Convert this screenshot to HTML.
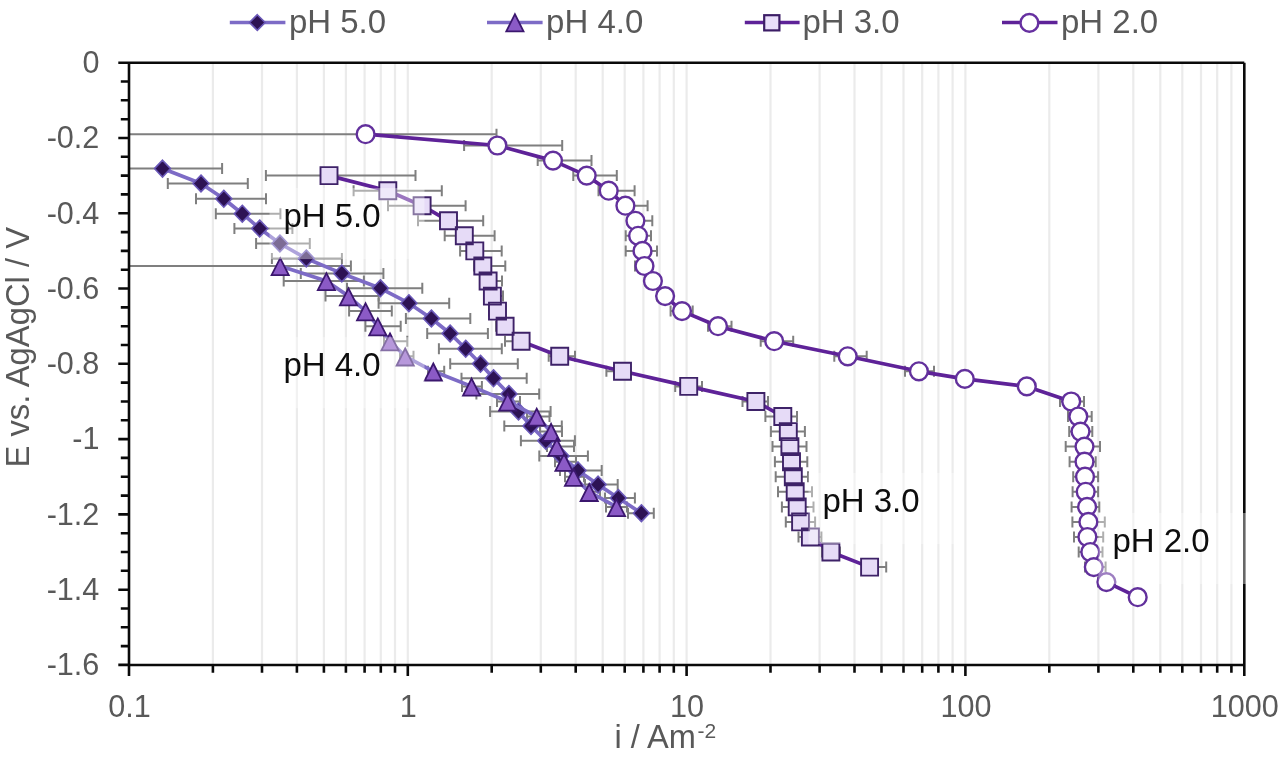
<!DOCTYPE html>
<html><head><meta charset="utf-8"><style>
html,body{margin:0;padding:0;background:#fff;width:1280px;height:759px;overflow:hidden}
svg{display:block;will-change:transform;font-family:"Liberation Sans",sans-serif}
#w{width:1280px;height:759px}
</style></head><body><div id="w">
<svg width="1280" height="759" viewBox="0 0 1280 759">
<path d="M212.9 63V664M262 63V664M296.9 63V664M323.9 63V664M345.9 63V664M364.6 63V664M380.8 63V664M395 63V664M407.8 63V664M491.7 63V664M540.8 63V664M575.7 63V664M602.7 63V664M624.7 63V664M643.4 63V664M659.6 63V664M673.8 63V664M686.6 63V664M770.5 63V664M819.6 63V664M854.5 63V664M881.5 63V664M903.5 63V664M922.2 63V664M938.4 63V664M952.6 63V664M965.4 63V664M1049.3 63V664M1098.4 63V664M1133.3 63V664M1160.3 63V664M1182.3 63V664M1201 63V664M1217.2 63V664M1231.4 63V664M1244.2 63V664" stroke="#ebebeb" stroke-width="2.2" fill="none"/>
<path d="M129 168.6H222.1M222.1 163.1V174.1M167.8 183.5H247.8M167.8 178V189M247.8 178V189M196 198.8H266M196 193.3V204.3M266 193.3V204.3M215.8 213.7H280.4M215.8 208.2V219.2M280.4 208.2V219.2M234.4 228.5H292.4M234.4 223V234M292.4 223V234M256.1 243.5H309.8M256.1 238V249M309.8 238V249M271.9 258.5H341.9M271.9 253V264M341.9 253V264M300.8 273.4H383.4M300.8 267.9V278.9M383.4 267.9V278.9M347 288.3H422.3M347 282.8V293.8M422.3 282.8V293.8M378.6 303.2H449.2M378.6 297.7V308.7M449.2 297.7V308.7M405.9 318.5H470.3M405.9 313V324M470.3 313V324M427.2 333.5H487.9M427.2 328V339M487.9 328V339M438.9 348.8H501.8M438.9 343.3V354.3M501.8 343.3V354.3M450.2 363.8H517.8M450.2 358.3V369.3M517.8 358.3V369.3M461.5 378.3H526.7M461.5 372.8V383.8M526.7 372.8V383.8M476.4 394H539.2M476.4 388.5V399.5M539.2 388.5V399.5M490.1 411.5H550.6M490.1 406V417M550.6 406V417M504.3 426H561.8M504.3 420.5V431.5M561.8 420.5V431.5M520.9 440.7H574.9M520.9 435.2V446.2M574.9 435.2V446.2M539.3 456H587.9M539.3 450.5V461.5M587.9 450.5V461.5M560 470.4H601.7M560 464.9V475.9M601.7 464.9V475.9M585 484.6H617.7M585 479.1V490.1M617.7 479.1V490.1M605 498H634.9M605 492.5V503.5M634.9 492.5V503.5M628 513.2H653.8M628 507.7V518.7M653.8 507.7V518.7" stroke="#7f7f7f" stroke-width="2.0" fill="none"/>
<path d="M129 266H350.9M350.9 260.5V271.5M283.7 281H363.9M283.7 275.5V286.5M363.9 275.5V286.5M325.5 296.1H378.7M325.5 290.6V301.6M378.7 290.6V301.6M349.1 311.1H391.8M349.1 305.6V316.6M391.8 305.6V316.6M365.4 326.2H400.7M365.4 320.7V331.7M400.7 320.7V331.7M384 341.2H407.3M384 335.7V346.7M407.3 335.7V346.7M400 356.3H413.5M400 350.8V361.8M413.5 350.8V361.8M428 371.3H444.2M428 365.8V376.8M444.2 365.8V376.8M462 386.4H481.9M462 380.9V391.9M481.9 380.9V391.9M497 401.5H520M497 396V407M520 396V407M527 416.5H549.5M527 411V422M549.5 411V422M540 431.6H562M540 426.1V437.1M562 426.1V437.1M547 446.6H574M547 441.1V452.1M574 441.1V452.1M555 461.7H576M555 456.2V467.2M576 456.2V467.2M565 476.7H584M565 471.2V482.2M584 471.2V482.2M586 491.8H600M586 486.3V497.3M600 486.3V497.3M606 506.9H627M606 501.4V512.4M627 501.4V512.4" stroke="#7f7f7f" stroke-width="2.0" fill="none"/>
<path d="M265.9 175.6H415.5M265.9 170.1V181.1M415.5 170.1V181.1M353.6 190.7H441.8M353.6 185.2V196.2M441.8 185.2V196.2M388 205.7H465.6M388 200.2V211.2M465.6 200.2V211.2M418 220.8H483.2M418 215.3V226.3M483.2 215.3V226.3M444.7 235.8H494.6M444.7 230.3V241.3M494.6 230.3V241.3M460.1 250.9H501.7M460.1 245.4V256.4M501.7 245.4V256.4M474 266H505.3M474 260.5V271.5M505.3 260.5V271.5M480 281H502M480 275.5V286.5M502 275.5V286.5M484 296.1H503M484 290.6V301.6M503 290.6V301.6M489 311.1H505M489 305.6V316.6M505 305.6V316.6M496 326.2H513M496 320.7V331.7M513 320.7V331.7M505 341.2H529M505 335.7V346.7M529 335.7V346.7M548.7 356.3H575M548.7 350.8V361.8M575 350.8V361.8M606.4 371.3H630M606.4 365.8V376.8M630 365.8V376.8M675.2 386.4H702M675.2 380.9V391.9M702 380.9V391.9M742.5 401.5H768M742.5 396V407M768 396V407M765.4 416.5H797M765.4 411V422M797 411V422M770.9 431.6H804.9M770.9 426.1V437.1M804.9 426.1V437.1M772.5 446.6H806.5M772.5 441.1V452.1M806.5 441.1V452.1M774.9 461.7H807.3M774.9 456.2V467.2M807.3 456.2V467.2M775.7 476.7H808M775.7 471.2V482.2M808 471.2V482.2M778 491.8H812M778 486.3V497.3M812 486.3V497.3M781.9 506.9H813.5M781.9 501.4V512.4M813.5 501.4V512.4M785.8 521.9H815.1M785.8 516.4V527.4M815.1 516.4V527.4M798.5 537H821.4M798.5 531.5V542.5M821.4 531.5V542.5M822 552H840M822 546.5V557.5M840 546.5V557.5M862 567.1H886.2M862 561.6V572.6M886.2 561.6V572.6" stroke="#7f7f7f" stroke-width="2.0" fill="none"/>
<path d="M129 134.2H496.5M496.5 128.7V139.7M464.1 145.5H562.2M464.1 140V151M562.2 140V151M537.7 160.6H591.5M537.7 155.1V166.1M591.5 155.1V166.1M573.3 175.6H616.8M573.3 170.1V181.1M616.8 170.1V181.1M598.5 190.7H634.6M598.5 185.2V196.2M634.6 185.2V196.2M618 205.7H647.6M618 200.2V211.2M647.6 200.2V211.2M628 220.8H652.3M628 215.3V226.3M652.3 215.3V226.3M625.7 235.8H651M625.7 230.3V241.3M651 230.3V241.3M625.7 250.9H657M625.7 245.4V256.4M657 245.4V256.4M635 266H650M635 260.5V271.5M650 260.5V271.5M645 281H660M645 275.5V286.5M660 275.5V286.5M657 296.1H673M657 290.6V301.6M673 290.6V301.6M670.6 311.1H692.7M670.6 305.6V316.6M692.7 305.6V316.6M708 326.2H731.5M708 320.7V331.7M731.5 320.7V331.7M760.7 341.2H793.2M760.7 335.7V346.7M793.2 335.7V346.7M834.3 356.3H866.7M834.3 350.8V361.8M866.7 350.8V361.8M905 371.3H934M905 365.8V376.8M934 365.8V376.8M960 378.9H970M960 373.4V384.4M970 373.4V384.4M1020 386.4H1033M1020 380.9V391.9M1033 380.9V391.9M1060 401.5H1084M1060 396V407M1084 396V407M1068 416.5H1091.7M1068 411V422M1091.7 411V422M1069.2 431.6H1092.3M1069.2 426.1V437.1M1092.3 426.1V437.1M1065.7 446.6H1100M1065.7 441.1V452.1M1100 441.1V452.1M1069.6 461.7H1095.7M1069.6 456.2V467.2M1095.7 456.2V467.2M1073.2 476.7H1098.1M1073.2 471.2V482.2M1098.1 471.2V482.2M1072.6 491.8H1098.1M1072.6 486.3V497.3M1098.1 486.3V497.3M1071.6 506.9H1099.3M1071.6 501.4V512.4M1099.3 501.4V512.4M1072.4 521.9H1104.8M1072.4 516.4V527.4M1104.8 516.4V527.4M1074 537H1103.2M1074 531.5V542.5M1103.2 531.5V542.5M1078.7 552H1102.5M1078.7 546.5V557.5M1102.5 546.5V557.5M1085 567.1H1105.6M1085 561.6V572.6M1105.6 561.6V572.6M1098 582.1H1112M1098 576.6V587.6M1112 576.6V587.6M1130 597.2H1145M1130 591.7V602.7M1145 591.7V602.7" stroke="#7f7f7f" stroke-width="2.0" fill="none"/>
<polyline points="162.5,168.6 201,183.5 223.8,198.8 242.3,213.7 259.7,228.5 279.9,243.5 306.3,258.5 341.8,273.4 380.4,288.3 408.9,303.2 431.4,318.5 450.1,333.5 465.7,348.8 480.5,363.8 493.5,378.3 508.9,394 518.5,411.5 531,426 545.8,440.7 561,456 578,470.4 598.1,484.6 618.3,498 641.4,513.2" stroke="#7d6bc6" stroke-width="3.7" fill="none" stroke-linejoin="round"/>
<path d="M162.5 160.2l8 8.4l-8 8.4l-8 -8.4zM201 175.1l8 8.4l-8 8.4l-8 -8.4zM223.8 190.4l8 8.4l-8 8.4l-8 -8.4zM242.3 205.3l8 8.4l-8 8.4l-8 -8.4zM259.7 220.1l8 8.4l-8 8.4l-8 -8.4zM279.9 235.1l8 8.4l-8 8.4l-8 -8.4zM306.3 250.1l8 8.4l-8 8.4l-8 -8.4zM341.8 265l8 8.4l-8 8.4l-8 -8.4zM380.4 279.9l8 8.4l-8 8.4l-8 -8.4zM408.9 294.8l8 8.4l-8 8.4l-8 -8.4zM431.4 310.1l8 8.4l-8 8.4l-8 -8.4zM450.1 325.1l8 8.4l-8 8.4l-8 -8.4zM465.7 340.4l8 8.4l-8 8.4l-8 -8.4zM480.5 355.4l8 8.4l-8 8.4l-8 -8.4zM493.5 369.9l8 8.4l-8 8.4l-8 -8.4zM508.9 385.6l8 8.4l-8 8.4l-8 -8.4zM518.5 403.1l8 8.4l-8 8.4l-8 -8.4zM531 417.6l8 8.4l-8 8.4l-8 -8.4zM545.8 432.3l8 8.4l-8 8.4l-8 -8.4zM561 447.6l8 8.4l-8 8.4l-8 -8.4zM578 462l8 8.4l-8 8.4l-8 -8.4zM598.1 476.2l8 8.4l-8 8.4l-8 -8.4zM618.3 489.6l8 8.4l-8 8.4l-8 -8.4zM641.4 504.8l8 8.4l-8 8.4l-8 -8.4z" fill="#2d1254" stroke="#6a58b8" stroke-width="1.6" stroke-linejoin="miter"/>
<polyline points="280.2,266 326.4,281 348.5,296.1 365.6,311.1 377.8,326.2 390,341.2 405.2,356.3 433.3,371.3 471.6,386.4 507.7,401.5 536.7,416.5 551.1,431.6 556.8,446.6 564,461.7 573.5,476.7 589.2,491.8 616.5,506.9" stroke="#7d6bc6" stroke-width="3.7" fill="none" stroke-linejoin="round"/>
<path d="M280.2 258.2L288.8 275.2H271.6zM326.4 273.2L335 290.2H317.8zM348.5 288.3L357.1 305.3H339.9zM365.6 303.3L374.2 320.3H357zM377.8 318.4L386.4 335.4H369.2zM390 333.4L398.6 350.4H381.4zM405.2 348.5L413.8 365.5H396.6zM433.3 363.5L441.9 380.5H424.7zM471.6 378.6L480.2 395.6H463zM507.7 393.7L516.3 410.7H499.1zM536.7 408.7L545.3 425.7H528.1zM551.1 423.8L559.7 440.8H542.5zM556.8 438.8L565.4 455.8H548.2zM564 453.9L572.6 470.9H555.4zM573.5 468.9L582.1 485.9H564.9zM589.2 484L597.8 501H580.6zM616.5 499.1L625.1 516.1H607.9z" fill="#8b5ac6" stroke="#3b176e" stroke-width="1.8" stroke-linejoin="miter"/>
<polyline points="329,175.6 387.8,190.7 422.1,205.7 448.5,220.8 464.3,235.8 474.8,250.9 482.8,266 488.1,281 492.4,296.1 497.5,311.1 505.1,326.2 521.1,341.2 559.7,356.3 622.5,371.3 688.7,386.4 755.9,401.5 782.8,416.5 788.3,431.6 789.9,446.6 791.5,461.7 793.3,476.7 795.2,491.8 797.2,506.9 800.6,521.9 810.4,537 830.9,552 869.6,567.1" stroke="#5e2298" stroke-width="3.7" fill="none" stroke-linejoin="round"/>
<path d="M320.5 167.1h17v17h-17zM379.3 182.2h17v17h-17zM413.6 197.2h17v17h-17zM440 212.3h17v17h-17zM455.8 227.3h17v17h-17zM466.3 242.4h17v17h-17zM474.3 257.5h17v17h-17zM479.6 272.5h17v17h-17zM483.9 287.6h17v17h-17zM489 302.6h17v17h-17zM496.6 317.7h17v17h-17zM512.6 332.7h17v17h-17zM551.2 347.8h17v17h-17zM614 362.8h17v17h-17zM680.2 377.9h17v17h-17zM747.4 393h17v17h-17zM774.3 408h17v17h-17zM779.8 423.1h17v17h-17zM781.4 438.1h17v17h-17zM783 453.2h17v17h-17zM784.8 468.2h17v17h-17zM786.7 483.3h17v17h-17zM788.7 498.4h17v17h-17zM792.1 513.4h17v17h-17zM801.9 528.5h17v17h-17zM822.4 543.5h17v17h-17zM861.1 558.6h17v17h-17z" fill="#e6dbf7" stroke="#3e2268" stroke-width="1.9"/>
<polyline points="365.6,134.2 497.4,145.5 553,160.6 586.7,175.6 608.7,190.7 625.4,205.7 635.4,220.8 638.1,235.8 642.5,250.9 644.5,266 652.9,281 665.1,296.1 682,311.1 718,326.2 774.2,341.2 847.7,356.3 918.9,371.3 964.8,378.9 1026.8,386.4 1071.2,401.5 1078.3,416.5 1080.5,431.6 1084.5,446.6 1084.5,461.7 1085,476.7 1085.7,491.8 1087.1,506.9 1088.4,521.9 1087.4,537 1090.3,552 1093.8,567.1 1106.4,582.1 1137.7,597.2" stroke="#5e2298" stroke-width="3.7" fill="none" stroke-linejoin="round"/>
<g fill="#fff" stroke="#62309c" stroke-width="2.4"><circle cx="365.6" cy="134.2" r="8.9"/><circle cx="497.4" cy="145.5" r="8.9"/><circle cx="553" cy="160.6" r="8.9"/><circle cx="586.7" cy="175.6" r="8.9"/><circle cx="608.7" cy="190.7" r="8.9"/><circle cx="625.4" cy="205.7" r="8.9"/><circle cx="635.4" cy="220.8" r="8.9"/><circle cx="638.1" cy="235.8" r="8.9"/><circle cx="642.5" cy="250.9" r="8.9"/><circle cx="644.5" cy="266" r="8.9"/><circle cx="652.9" cy="281" r="8.9"/><circle cx="665.1" cy="296.1" r="8.9"/><circle cx="682" cy="311.1" r="8.9"/><circle cx="718" cy="326.2" r="8.9"/><circle cx="774.2" cy="341.2" r="8.9"/><circle cx="847.7" cy="356.3" r="8.9"/><circle cx="918.9" cy="371.3" r="8.9"/><circle cx="964.8" cy="378.9" r="8.9"/><circle cx="1026.8" cy="386.4" r="8.9"/><circle cx="1071.2" cy="401.5" r="8.9"/><circle cx="1078.3" cy="416.5" r="8.9"/><circle cx="1080.5" cy="431.6" r="8.9"/><circle cx="1084.5" cy="446.6" r="8.9"/><circle cx="1084.5" cy="461.7" r="8.9"/><circle cx="1085" cy="476.7" r="8.9"/><circle cx="1085.7" cy="491.8" r="8.9"/><circle cx="1087.1" cy="506.9" r="8.9"/><circle cx="1088.4" cy="521.9" r="8.9"/><circle cx="1087.4" cy="537" r="8.9"/><circle cx="1090.3" cy="552" r="8.9"/><circle cx="1093.8" cy="567.1" r="8.9"/><circle cx="1106.4" cy="582.1" r="8.9"/><circle cx="1137.7" cy="597.2" r="8.9"/></g>
<path d="M129 62.7H1244.3M129 665H1244.3M129 62.7V665M1244.3 62.7V676M118.3 62.7H129M120.8 81.5H129M120.8 100.3H129M120.8 119.2H129M118.3 138H129M120.8 156.8H129M120.8 175.6H129M120.8 194.4H129M118.3 213.3H129M120.8 232.1H129M120.8 250.9H129M120.8 269.7H129M118.3 288.5H129M120.8 307.4H129M120.8 326.2H129M120.8 345H129M118.3 363.8H129M120.8 382.6H129M120.8 401.5H129M120.8 420.3H129M118.3 439.1H129M120.8 457.9H129M120.8 476.7H129M120.8 495.6H129M118.3 514.4H129M120.8 533.2H129M120.8 552H129M120.8 570.8H129M118.3 589.7H129M120.8 608.5H129M120.8 627.3H129M120.8 646.1H129M118.3 664.9H129M129 665V676M212.9 665V672.7M262 665V672.7M296.9 665V672.7M323.9 665V672.7M345.9 665V672.7M364.6 665V672.7M380.8 665V672.7M395 665V672.7M407.8 665V676M491.7 665V672.7M540.8 665V672.7M575.7 665V672.7M602.7 665V672.7M624.7 665V672.7M643.4 665V672.7M659.6 665V672.7M673.8 665V672.7M686.6 665V676M770.5 665V672.7M819.6 665V672.7M854.5 665V672.7M881.5 665V672.7M903.5 665V672.7M922.2 665V672.7M938.4 665V672.7M952.6 665V672.7M965.4 665V676M1049.3 665V672.7M1098.4 665V672.7M1133.3 665V672.7M1160.3 665V672.7M1182.3 665V672.7M1201 665V672.7M1217.2 665V672.7M1231.4 665V672.7" stroke="#0a0a0a" stroke-width="2.6" fill="none" stroke-linecap="butt"/>
<rect x="269.5" y="188.1" width="155" height="71" fill="#fff" fill-opacity="0.38"/>
<rect x="269.5" y="337.2" width="155" height="71" fill="#fff" fill-opacity="0.38"/>
<rect x="808.5" y="473" width="155" height="71" fill="#fff" fill-opacity="0.38"/>
<rect x="1098.5" y="513" width="155" height="71" fill="#fff" fill-opacity="0.38"/>
<g font-family="Liberation Sans" font-size="30.6" fill="#595959"><text x="99.4" y="72.9" text-anchor="end">0</text><text x="99.4" y="148.2" text-anchor="end">-0.2</text><text x="99.4" y="223.5" text-anchor="end">-0.4</text><text x="99.4" y="298.7" text-anchor="end">-0.6</text><text x="99.4" y="374" text-anchor="end">-0.8</text><text x="99.4" y="449.3" text-anchor="end">-1</text><text x="99.4" y="524.6" text-anchor="end">-1.2</text><text x="99.4" y="599.9" text-anchor="end">-1.4</text><text x="99.4" y="675.1" text-anchor="end">-1.6</text><text x="129.5" y="716.8" text-anchor="middle">0.1</text><text x="408.3" y="716.8" text-anchor="middle">1</text><text x="687.1" y="716.8" text-anchor="middle">10</text><text x="965.9" y="716.8" text-anchor="middle">100</text><text x="1244.7" y="716.8" text-anchor="middle">1000</text></g>
<text x="0" y="0" transform="translate(28.7 347.2) rotate(-90)" text-anchor="middle" font-family="Liberation Sans" font-size="32.8" fill="#595959">E vs. AgAgCl / V</text>
<text x="614.5" y="748" font-family="Liberation Sans" font-size="32.6" fill="#595959">i / Am<tspan font-size="21" dy="-10.5" dx="1.5">-2</tspan></text>
<text x="283.4" y="226.6" font-family="Liberation Sans" font-size="33" fill="#0d0d0d">pH 5.0</text>
<text x="283.4" y="376.2" font-family="Liberation Sans" font-size="33" fill="#0d0d0d">pH 4.0</text>
<text x="822.4" y="512.2" font-family="Liberation Sans" font-size="33" fill="#0d0d0d">pH 3.0</text>
<text x="1112.4" y="552.2" font-family="Liberation Sans" font-size="33" fill="#0d0d0d">pH 2.0</text>
<path d="M229.8 22.5H285.4M487 22.5H542.6" stroke="#7d6bc6" stroke-width="3.7"/><path d="M744.8 22.5H799.6M1002 22.5H1057.5" stroke="#5e2298" stroke-width="3.7"/><path d="M257.3 14.7l7.8 7.8l-7.8 7.8l-7.8 -7.8z" fill="#2d1254" stroke="#6a58b8" stroke-width="1.6"/><path d="M514.9 14.2L523.5 31.4H506.3z" fill="#8b5ac6" stroke="#3b176e" stroke-width="1.8"/><rect x="764.2" y="15.2" width="15.2" height="15.2" fill="#e9defa" stroke="#3c1d66" stroke-width="2.2"/><circle cx="1029.4" cy="22.9" r="8.9" fill="#fff" stroke="#6630a0" stroke-width="2.5"/><text x="288.9" y="33" font-family="Liberation Sans" font-size="33" fill="#595959">pH 5.0</text><text x="546.1" y="33" font-family="Liberation Sans" font-size="33" fill="#595959">pH 4.0</text><text x="802.4" y="33" font-family="Liberation Sans" font-size="33" fill="#595959">pH 3.0</text><text x="1061" y="33" font-family="Liberation Sans" font-size="33" fill="#595959">pH 2.0</text>
</svg></div>
</body></html>
